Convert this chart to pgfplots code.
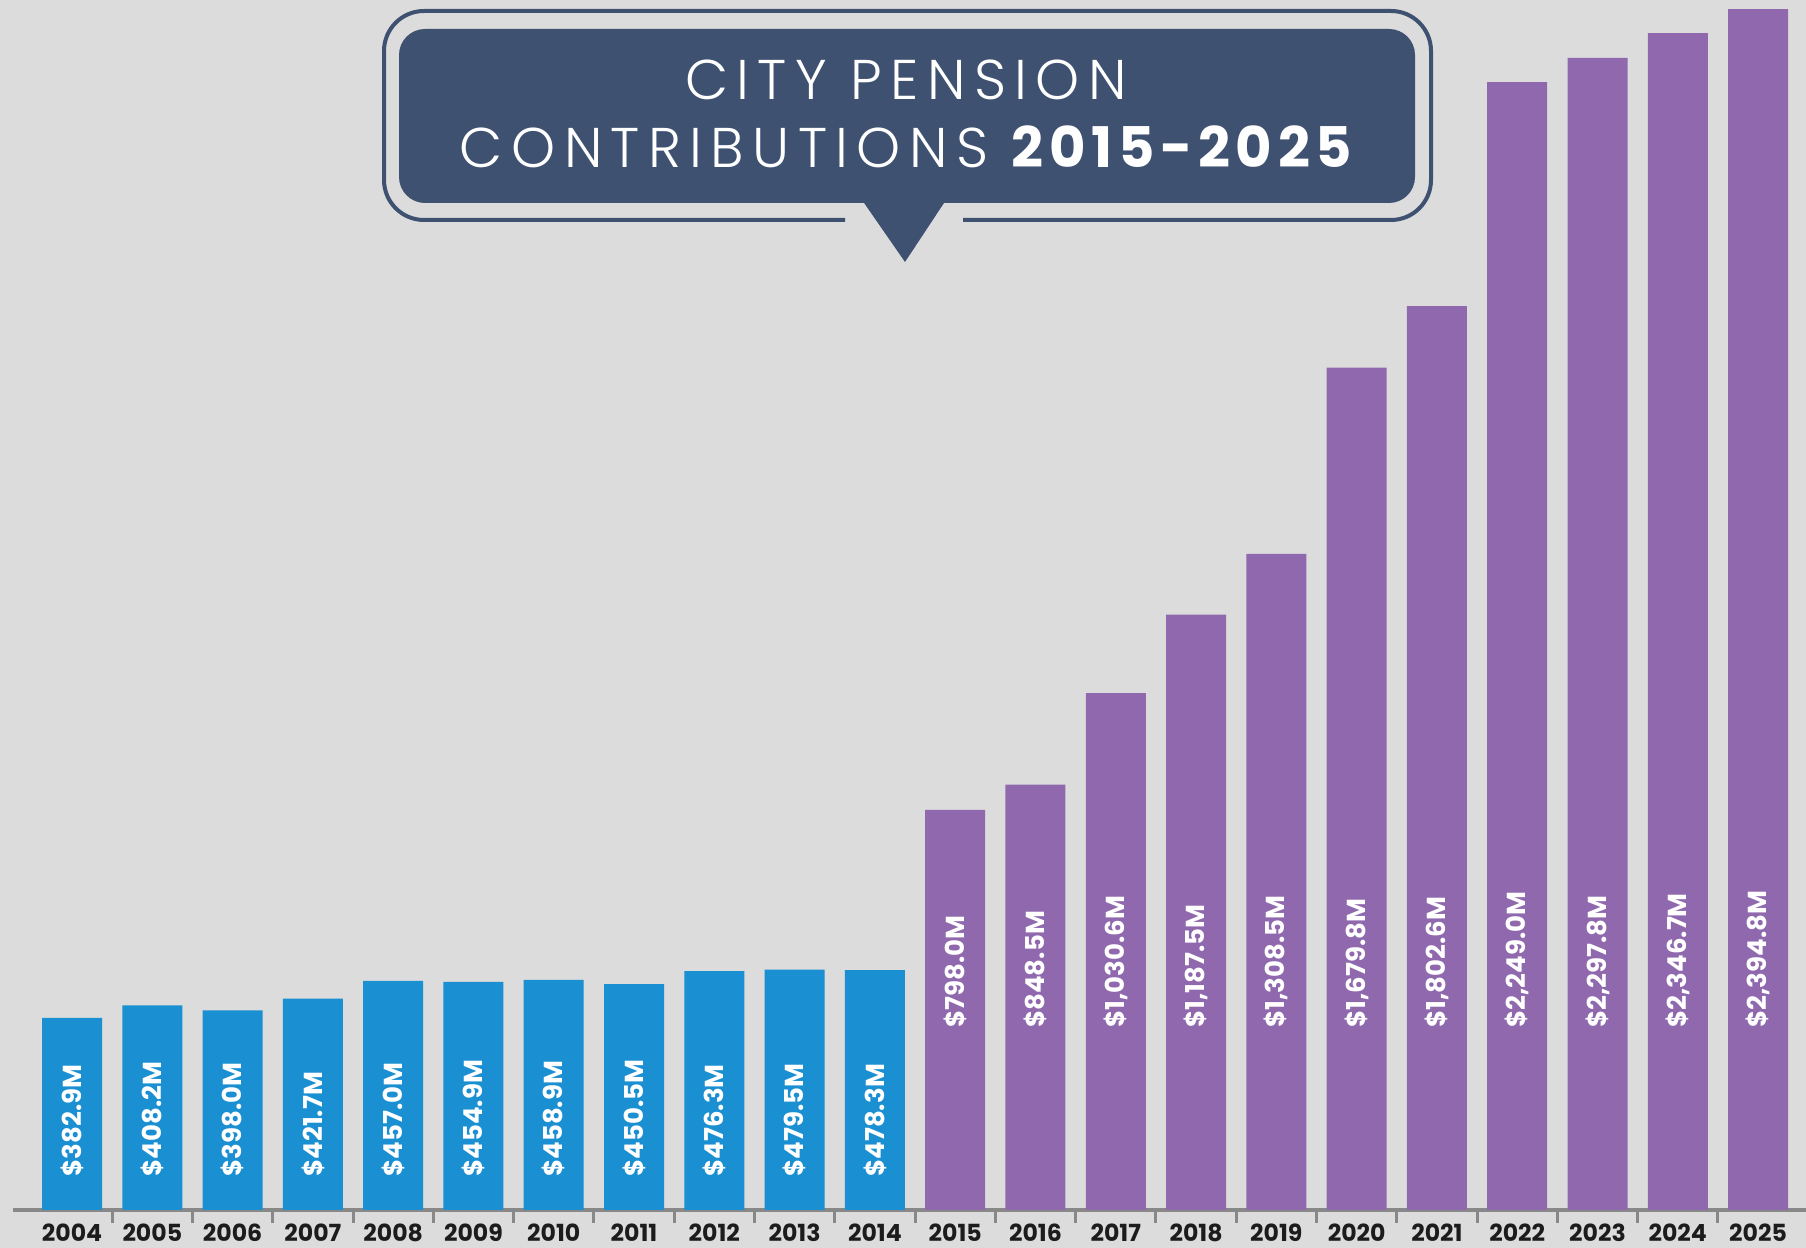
\documentclass[border=0pt]{standalone}
\usepackage{pgfplots}
\usepackage{pgfplotstable}
\pgfplotsset{compat=1.18}
\usepackage{fontspec}
\setmainfont{Poppins}
\newfontfamily\ttl{Poppins}[UprightFont={* Light}, LetterSpace=15]
\newfontfamily\ttlb{Poppins}[UprightFont={* Bold}, LetterSpace=10]
\definecolor{bgc}{HTML}{DCDCDC}
\definecolor{barblue}{HTML}{1A8FD2}
\definecolor{barpurple}{HTML}{8F68AE}
\definecolor{titlebox}{HTML}{3F5170}
\definecolor{axisgray}{HTML}{888888}
\definecolor{ticktext}{HTML}{1C1C1C}

\pgfplotstableread{
x val
0 382.9
1 408.2
2 398.0
3 421.7
4 457.0
5 454.9
6 458.9
7 450.5
8 476.3
9 479.5
10 478.3
}\bluedata
\pgfplotstableread{
x val
11 798.0
12 848.5
13 1030.6
14 1187.5
15 1308.5
16 1679.8
17 1802.6
18 2249.0
19 2297.8
20 2346.7
21 2394.8
}\purpledata

\begin{document}
\begin{tikzpicture}[x=1pt,y=1pt]
\fill[bgc] (0,0) rectangle (903,624);
\begin{axis}[
  at={(6.5pt,19pt)}, anchor=south west,
  scale only axis, width=896.5pt, height=605pt,
  xmin=-0.735, xmax=21.597, ymin=0, ymax=2413,
  clip=false,
  hide y axis,
  axis x line=bottom,
  x axis line style={-, draw=axisgray, line width=2pt},
  xtick={0,...,21},
  xticklabels={2004,2005,2006,2007,2008,2009,2010,2011,2012,2013,2014,2015,2016,2017,2018,2019,2020,2021,2022,2023,2024,2025},
  major tick length=0pt,
  xticklabel style={anchor=base, inner sep=0pt, yshift=-16pt, text=ticktext, font=\bfseries\fontsize{11.8}{11.8}\selectfont},
  labstyle/.style={draw=none, mark=none,
    point meta=explicit,
    nodes near coords={\$\pgfmathprintnumber[assume math mode=true,fixed,fixed zerofill,precision=1,1000 sep={,}]{\pgfplotspointmeta}M},
    nodes near coords style={rotate=90, anchor=west, inner sep=0pt, text=white, font=\bfseries\fontsize{13}{13}\selectfont}},
]
\addplot[ybar, bar width=30pt, bar shift=0pt, fill=barblue, draw=none] table[x=x,y=val]{\bluedata};
\addplot[ybar, bar width=30pt, bar shift=0pt, fill=barpurple, draw=none] table[x=x,y=val]{\purpledata};
\addplot[labstyle] table[x=x, y expr=66, meta=val]{\bluedata};
\addplot[labstyle] table[x=x, y expr=363, meta=val]{\purpledata};
% tick marks between the categories, below the axis line
\addplot[ycomb, draw=axisgray, line width=1.5pt, mark=none] coordinates {
  (0.5,-26) (1.5,-26) (2.5,-26) (3.5,-26) (4.5,-26) (5.5,-26) (6.5,-26)
  (7.5,-26) (8.5,-26) (9.5,-26) (10.5,-26) (11.5,-26) (12.5,-26) (13.5,-26)
  (14.5,-26) (15.5,-26) (16.5,-26) (17.5,-26) (18.5,-26) (19.5,-26) (20.5,-26)};
\end{axis}
% title callout
\draw[titlebox, line width=2pt, rounded corners=20pt]
  (481.5,514) -- (715.5,514) -- (715.5,618.5) -- (192,618.5) -- (192,514) -- (422.5,514);
\fill[titlebox, rounded corners=13pt] (199.5,522.5) rectangle (707.5,609.5);
\fill[titlebox] (431,524) -- (473,524) -- (452.5,493) -- cycle;
\node[text=white, anchor=base, inner sep=0pt, font=\ttl\fontsize{28}{28}\selectfont] at (453,574) {CITY PENSION};
\node[text=white, anchor=base, inner sep=0pt, font=\ttl\fontsize{28}{28}\selectfont] at (453,540) {CONTRIBUTIONS {\ttlb 2015-2025}};
\pgfresetboundingbox
\useasboundingbox (0,0) rectangle (903,624);
\end{tikzpicture}
\end{document}
